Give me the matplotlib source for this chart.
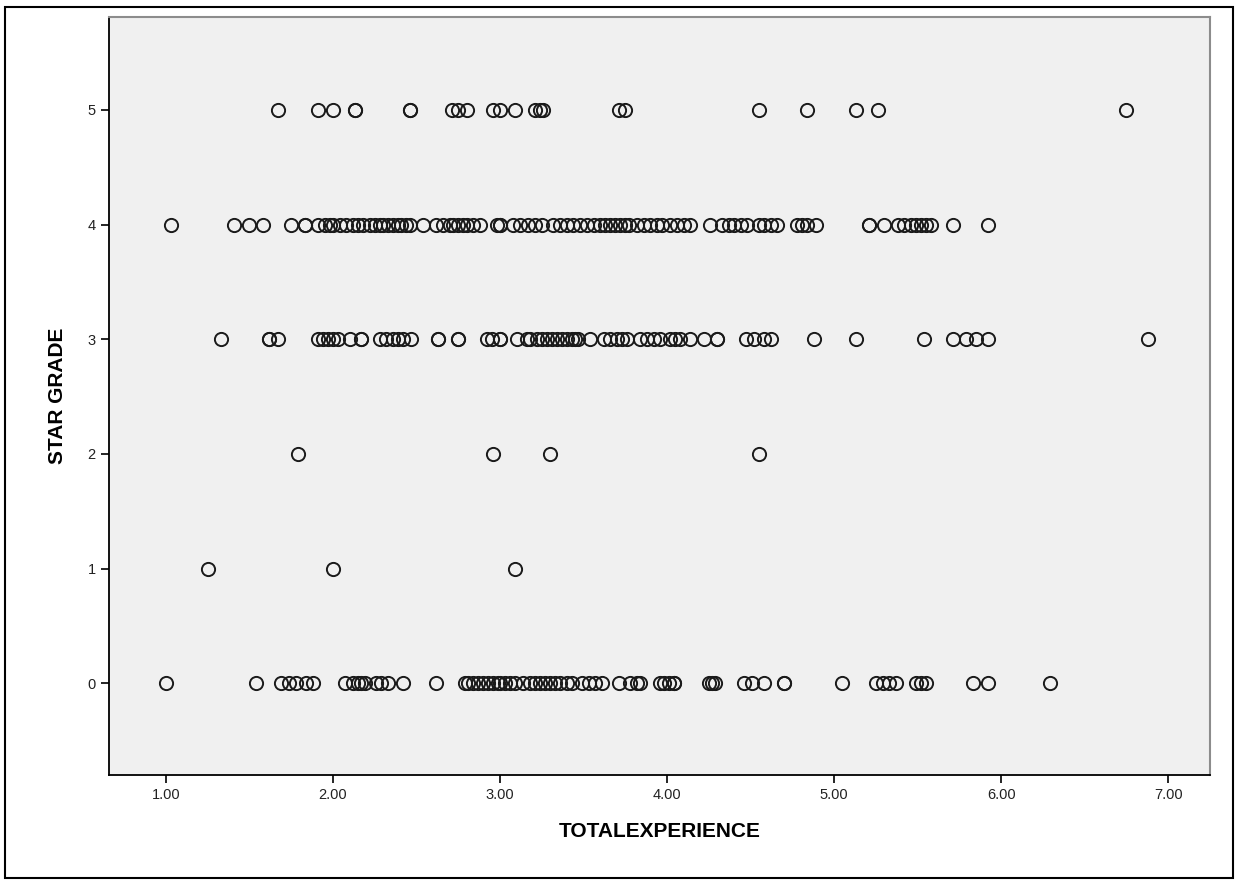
import matplotlib
matplotlib.use('Agg')
import matplotlib.pyplot as plt
from matplotlib.patches import Rectangle

plt.rcParams['font.family'] = ['Liberation Sans', 'DejaVu Sans']

# ── data: TOTALEXPERIENCE values, grouped by STAR GRADE ──
grade5 = [1.67, 1.91, 2.00, 2.13, 2.13, 2.46, 2.46, 2.71, 2.75, 2.80, 2.96,
          3.00, 3.09, 3.21, 3.24, 3.26, 3.71, 3.75, 4.55, 4.84, 5.13, 5.26,
          6.75]
grade4 = [1.03, 1.41, 1.50, 1.58, 1.75, 1.83, 1.83,
          1.91, 1.95, 1.98, 2.00, 2.04, 2.08, 2.12, 2.15, 2.18, 2.22, 2.25,
          2.28, 2.30, 2.33, 2.36, 2.39, 2.41, 2.44, 2.46, 2.54,
          2.62, 2.66, 2.70, 2.72, 2.75, 2.78, 2.80, 2.84, 2.88, 2.98,
          3.00, 3.00, 3.08, 3.12, 3.17, 3.21, 3.25,
          3.32, 3.36, 3.40, 3.44, 3.48, 3.52, 3.56, 3.60, 3.63, 3.66, 3.69,
          3.72, 3.75, 3.77, 3.82, 3.86, 3.90, 3.94, 3.97,
          4.02, 4.06, 4.10, 4.14, 4.26, 4.33, 4.37, 4.40, 4.44, 4.48,
          4.55, 4.58, 4.62, 4.66, 4.78, 4.81, 4.84, 4.89,
          5.21, 5.21, 5.30, 5.38, 5.42, 5.46, 5.49, 5.52, 5.55, 5.58,
          5.71, 5.92]
grade3 = [1.33, 1.62, 1.62, 1.67, 1.91, 1.94, 1.97, 2.00, 2.03, 2.10,
          2.17, 2.17, 2.28, 2.32, 2.36, 2.39, 2.42, 2.47, 2.63, 2.63,
          2.75, 2.75, 2.92, 2.95, 3.00, 3.00, 3.10, 3.16, 3.18,
          3.22, 3.25, 3.28, 3.31, 3.34, 3.37, 3.40, 3.43, 3.45, 3.47,
          3.54, 3.62, 3.66, 3.70, 3.73, 3.76, 3.84, 3.88, 3.92, 3.96,
          4.02, 4.05, 4.08, 4.14, 4.22, 4.30, 4.30,
          4.47, 4.52, 4.58, 4.62, 4.88,
          5.13, 5.54, 5.71, 5.79, 5.85, 5.92, 6.88]
grade2 = [1.79, 2.96, 3.30, 4.55]
grade1 = [1.25, 2.00, 3.09]
grade0 = [1.00, 1.54, 1.69, 1.74, 1.78, 1.84, 1.88,
          2.07, 2.12, 2.15, 2.17, 2.19, 2.26, 2.29, 2.33, 2.42, 2.62,
          2.79, 2.81, 2.84, 2.87, 2.90, 2.93, 2.96, 2.99,
          3.00, 3.03, 3.06, 3.09, 3.14, 3.18, 3.21, 3.24, 3.27, 3.30,
          3.33, 3.36, 3.40, 3.43, 3.49, 3.53, 3.57, 3.61, 3.71,
          3.78, 3.82, 3.84, 3.96, 3.98, 4.01, 4.04, 4.04,
          4.25, 4.27, 4.29, 4.46, 4.51, 4.58, 4.70, 4.70,
          5.05, 5.25, 5.29, 5.33, 5.37, 5.49, 5.52, 5.55, 5.83, 5.92, 6.29]

grades = [5, 4, 3, 2, 1, 0]
groups = [grade5, grade4, grade3, grade2, grade1, grade0]

x_ticks = [1, 2, 3, 4, 5, 6, 7]
x_labels = ['1.00', '2.00', '3.00', '4.00', '5.00', '6.00', '7.00']
y_ticks = [0, 1, 2, 3, 4, 5]

fig = plt.figure(figsize=(12.39, 8.85), dpi=100)
ax = fig.add_axes([0.088, 0.1243, 0.8886, 0.8565])
ax.set_facecolor('#f0f0f0')

for g, xs in zip(grades, groups):
    ax.plot(xs, [g] * len(xs), linestyle='none', marker='o', ms=9.5,
            mfc='none', mec='#1a1a1a', mew=1.4)

ax.set_xlim(0.66, 7.25)
ax.set_ylim(-0.80, 5.81)
ax.set_xticks(x_ticks)
ax.set_xticklabels(x_labels)
ax.set_yticks(y_ticks)
ax.tick_params(direction='out', length=6, width=1.2, labelsize=10.5,
               colors='black', labelcolor='#222222')

for side in ['left', 'bottom']:
    ax.spines[side].set_color('black')
    ax.spines[side].set_linewidth(1.3)
for side in ['top', 'right']:
    ax.spines[side].set_color('#8c8c8c')
    ax.spines[side].set_linewidth(1.5)

ax.set_xlabel('TOTALEXPERIENCE', fontsize=15, fontweight='bold', labelpad=14)
ax.set_ylabel('STAR GRADE', fontsize=15, fontweight='bold', labelpad=15)

# outer frame round the whole chart
fig.patches.append(Rectangle((0.004, 0.008), 0.991, 0.984, transform=fig.transFigure,
                             fill=False, edgecolor='black', linewidth=1.5))

fig.savefig('out.png', dpi=100)
